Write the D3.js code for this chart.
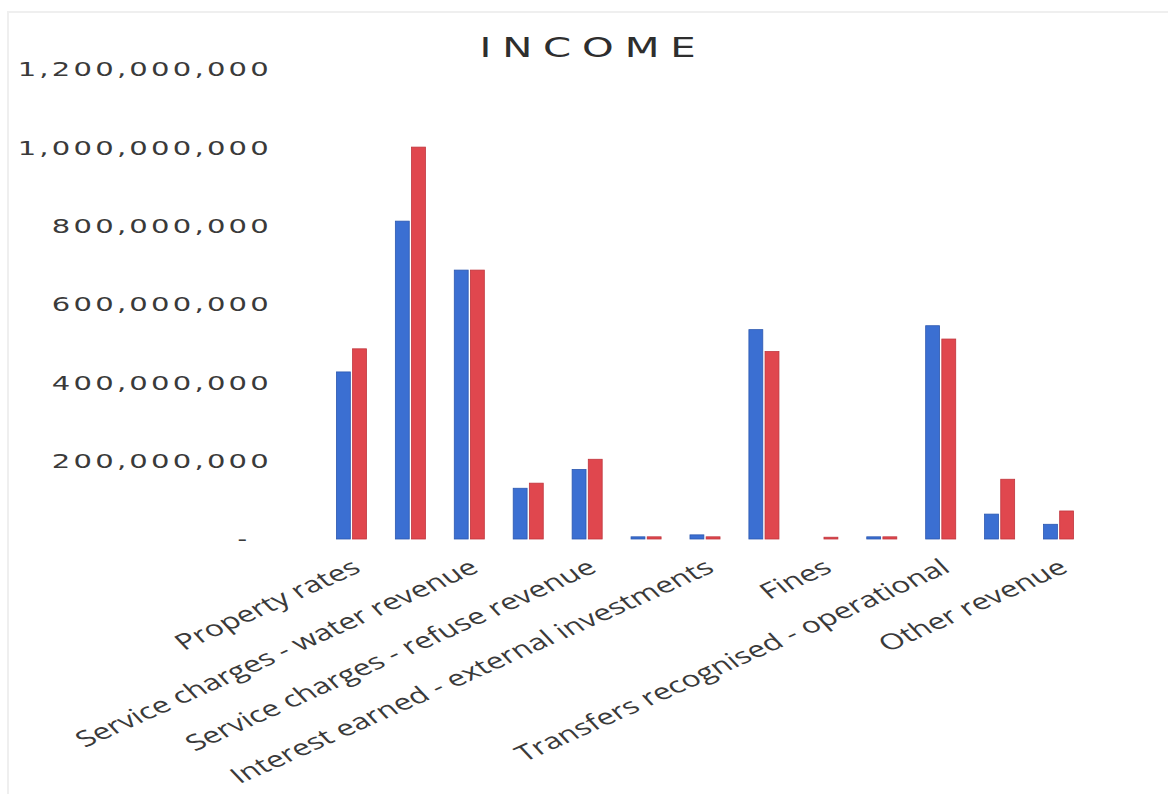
<!DOCTYPE html>
<html>
<head>
<meta charset="utf-8">
<script src="https://cdn.jsdelivr.net/npm/d3@7"></script>
<style>
  html, body { margin: 0; padding: 0; background: #ffffff; }
  svg { display: block; }
</style>
</head>
<body>
<svg id="chart" width="1168" height="794"></svg>
<script>
// ---- data ----
const categories = [
  "Property rates",
  "Service charges - electricity revenue",
  "Service charges - water revenue",
  "Service charges - sanitation revenue",
  "Service charges - refuse revenue",
  "Rental of facilities and equipment",
  "Interest earned - external investments",
  "Interest earned - outstanding debtors",
  "Fines",
  "Licences and permits",
  "Transfers recognised - operational",
  "Transfers recognised - capital",
  "Other revenue"
];
const seriesNames = ["Series 1", "Series 2"];
const series1 = [424e6, 809e6, 684e6, 127e6, 175e6, 3e6, 8e6, 532e6, 0, 3e6, 542e6, 61e6, 35e6];
const series2 = [483e6, 998e6, 684e6, 140e6, 201e6, 3e6, 3e6, 476e6, 2e6, 3e6, 508e6, 150e6, 69e6];
const yTicks = [0, 200e6, 400e6, 600e6, 800e6, 1000e6, 1200e6];
const titleText = "INCOME";

// ---- layout ----
const svg = d3.select("#chart");
const W = 1168, H = 794;
const plot = { left: 322, right: 1088, top: 69, bottom: 539 };
const colors = { fill: ["#3b6fd2", "#e0474e"], stroke: ["#2c58b0", "#c0363d"] };
const stretch = 1.45;

svg.append("rect").attr("x", 8).attr("y", 12).attr("width", W - 4).attr("height", H)
  .attr("fill", "none").attr("stroke", "#efefef").attr("stroke-width", 2);

const x0 = d3.scaleBand().domain(categories).range([plot.left, plot.right]).paddingInner(0.49).paddingOuter(0.245);
const x1 = d3.scaleBand().domain(seriesNames).range([0, x0.bandwidth()]).paddingInner(0.14);
const y = d3.scaleLinear().domain([0, 1200e6]).range([plot.bottom, plot.top]);

// title
svg.append("text")
  .attr("transform", `translate(593,57) scale(1.55,1)`)
  .attr("text-anchor", "middle")
  .attr("font-family", "DejaVu Sans")
  .attr("font-size", 26)
  .attr("letter-spacing", 7)
  .attr("fill", "#2e2e2e")
  .text(titleText);

// y axis
const yAxis = d3.axisLeft(y).tickValues(yTicks).tickSize(0)
  .tickFormat(d => d === 0 ? "-" : d3.format(",")(d));
const gy = svg.append("g").attr("transform", `translate(272,0)`).call(yAxis);
gy.select(".domain").remove();
gy.selectAll(".tick text")
  .attr("x", 0).attr("dy", "0.36em")
  .attr("font-family", "DejaVu Sans")
  .attr("font-size", 19)
  .attr("letter-spacing", 2.1)
  .attr("fill", "#3a3a3a")
  .attr("transform", d => d === 0 ? "translate(-22,0) scale(1.4,1)" : "scale(1.53,1)");

// bars
const data = categories.map((c, i) => ({ cat: c, vals: [series1[i], series2[i]] }));
const groups = svg.append("g").selectAll("g").data(data).join("g")
  .attr("transform", d => `translate(${x0(d.cat)},0)`);
groups.selectAll("rect").data(d => d.vals.map((v, j) => ({ v, j, name: seriesNames[j] })))
  .join("rect")
  .attr("x", d => x1(d.name))
  .attr("width", x1.bandwidth())
  .attr("y", d => y(d.v) - (d.v > 0 ? 1 : 0))
  .attr("height", d => d.v > 0 ? Math.max(1.5, y(0) - y(d.v) + 1) : 0)
  .attr("fill", d => colors.fill[d.j])
  .attr("stroke", d => colors.stroke[d.j])
  .attr("stroke-width", 0.8);

// x axis labels (every other category shown, as in the original)
const xAxis = d3.axisBottom(x0).tickSize(0)
  .tickFormat((d, i) => i % 2 === 0 ? d : "");
const gx = svg.append("g").attr("transform", `translate(0,${plot.bottom})`).call(xAxis);
gx.select(".domain").remove();
gx.selectAll(".tick text")
  .attr("y", 0).attr("dy", 0)
  .attr("text-anchor", "end")
  .attr("font-family", "Open Sans")
  .attr("font-size", 22)
  .attr("fill", "#3a3a3a")
  .attr("transform", `translate(11,32) scale(${stretch},1) rotate(-33)`);
</script>
</body>
</html>
